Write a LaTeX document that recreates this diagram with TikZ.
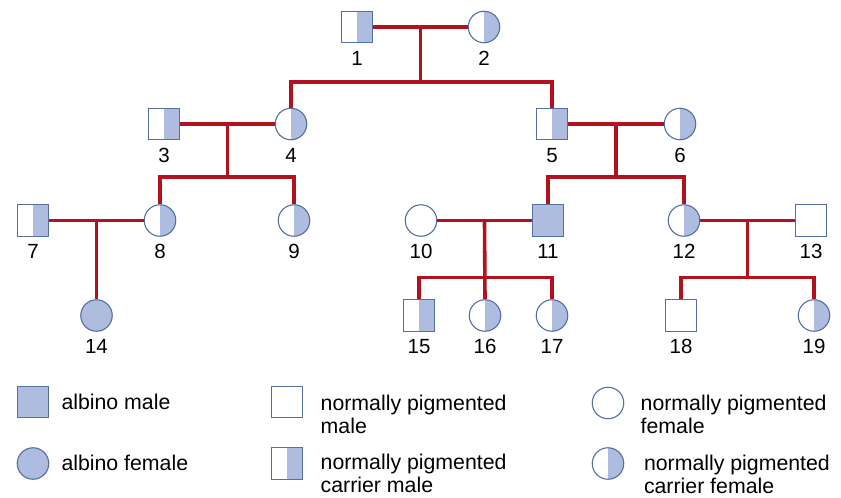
\documentclass[tikz,border=0pt]{standalone}
\usepackage{fontspec}
\setmainfont{Liberation Sans}
\usetikzlibrary{positioning, calc}
\definecolor{albinoblue}{RGB}{174,188,224}
\definecolor{rim}{RGB}{84,112,160}
\definecolor{kinred}{RGB}{178,18,30}

\begin{document}
\begin{tikzpicture}[x=1pt, y=-1pt,
    male/.style={draw=rim, line width=1.1pt, fill=white, minimum size=31.5pt, inner sep=0pt},
    female/.style={male, circle},
    affected/.style={fill=albinoblue},
    carrier/.style={path picture={\fill[albinoblue] (path picture bounding box.south) rectangle (path picture bounding box.north east);}},
    num/.style={font=\fontsize{20.5}{24}\selectfont, inner sep=0pt},
    keytext/.style={font=\fontsize{21.3}{23.2}\selectfont, inner sep=0pt, align=left},
    kin/.style={draw=kinred, line width=3.6pt}
]
\useasboundingbox (0,0) rectangle (841,498);

% Generation I
\node[male, carrier] (p1) at (357,27) {};
\node[num, below=7.5pt of p1] (l1) {1};
\node[female, carrier] (p2) at (484,27) {};
\node[num, below=7.5pt of p2] (l2) {2};

% Generation II
\node[male, carrier] (p3) at (164,124) {};
\node[num, below=7.5pt of p3] (l3) {3};
\node[female, carrier] (p4) at (291,124) {};
\node[num, below=7.5pt of p4] (l4) {4};
\node[male, carrier] (p5) at (552,124) {};
\node[num, below=7.5pt of p5] (l5) {5};
\node[female, carrier] (p6) at (680,124) {};
\node[num, below=7.5pt of p6] (l6) {6};

% Generation III
\node[male, carrier] (p7) at (33,220.5) {};
\node[num, below=7.5pt of p7] (l7) {7};
\node[female, carrier] (p8) at (160,220.5) {};
\node[num, below=7.5pt of p8] (l8) {8};
\node[female, carrier] (p9) at (294,220.5) {};
\node[num, below=7.5pt of p9] (l9) {9};
\node[female] (p10) at (421,220.5) {};
\node[num, below=7.5pt of p10] (l10) {10};
\node[male, affected] (p11) at (548,220.5) {};
\node[num, below=7.5pt of p11] (l11) {11};
\node[female, carrier] (p12) at (684,220.5) {};
\node[num, below=7.5pt of p12] (l12) {12};
\node[male] (p13) at (811,220.5) {};
\node[num, below=7.5pt of p13] (l13) {13};

% Generation IV
\node[female, affected] (p14) at (96.5,315.5) {};
\node[num, below=7.5pt of p14] (l14) {14};
\node[male, carrier] (p15) at (419,315.5) {};
\node[num, below=7.5pt of p15] (l15) {15};
\node[female, carrier] (p16) at (485,315.5) {};
\node[num, below=7.5pt of p16] (l16) {16};
\node[female, carrier] (p17) at (552,315.5) {};
\node[num, below=7.5pt of p17] (l17) {17};
\node[male] (p18) at (681,315.5) {};
\node[num, below=7.5pt of p18] (l18) {18};
\node[female, carrier] (p19) at (814,315.5) {};
\node[num, below=7.5pt of p19] (l19) {19};

% Matings and offspring
\coordinate (m12) at ($(p1)!0.5!(p2)$);
\coordinate (s12) at (m12 |- 0,82);
\draw[kin] (p1) -- (p2);
\draw[kin] (m12) -- (s12);
\draw[kin] (p4.north) |- (s12) -| (p5.north);

\coordinate (m34) at ($(p3)!0.5!(p4)$);
\coordinate (s34) at (m34 |- 0,177);
\draw[kin] (p3) -- (p4);
\draw[kin] (m34) -- (s34);
\draw[kin] (p8.north) |- (s34) -| (p9.north);

\coordinate (m56) at ($(p5)!0.5!(p6)$);
\coordinate (s56) at (m56 |- 0,177);
\draw[kin] (p5) -- (p6);
\draw[kin] (m56) -- (s56);
\draw[kin] (p11.north) |- (s56) -| (p12.north);

\coordinate (m78) at ($(p7)!0.5!(p8)$);
\draw[kin] (p7) -- (p8);
\draw[kin] (m78) -- (p14.north);

\coordinate (m1011) at ($(p10)!0.5!(p11)$);
\coordinate (s1011) at (m1011 |- 0,277.5);
\draw[kin] (p10) -- (p11);
\draw[kin] (m1011) -- (p16.north);
\draw[kin] (p15.north) |- (s1011) -| (p17.north);

\coordinate (m1213) at ($(p12)!0.5!(p13)$);
\coordinate (s1213) at (m1213 |- 0,277.5);
\draw[kin] (p12) -- (p13);
\draw[kin] (m1213) -- (s1213);
\draw[kin] (p18.north) |- (s1213) -| (p19.north);

% Key
\node[male, affected] (ka) at (33,402) {};
\node[keytext, anchor=base west] (ta) at ([xshift=12pt, yshift=-7pt]ka.east) {albino male};
\node[female, affected] (kf) at (33,463.5) {};
\node[keytext, anchor=base west] (tf) at ([xshift=12pt, yshift=-7pt]kf.east) {albino female};
\node[male] (kn) at (287,402) {};
\node[keytext, anchor=north west] (tn) at ([xshift=17.2pt, yshift=7.5pt]kn.east) {normally pigmented\\male};
\node[male, carrier] (kc) at (287,463.5) {};
\node[keytext, anchor=north west] (tc) at ([xshift=17.2pt, yshift=9.5pt]kc.east) {normally pigmented\\carrier male};
\node[female] (kw) at (608,403) {};
\node[keytext, anchor=north west] (tw) at ([xshift=16.2pt, yshift=8.5pt]kw.east) {normally pigmented\\female};
\node[female, carrier] (kh) at (608,463.5) {};
\node[keytext, anchor=north west] (th) at ([xshift=19.5pt, yshift=8.5pt]kh.east) {normally pigmented\\carrier female};
\end{tikzpicture}
\end{document}
